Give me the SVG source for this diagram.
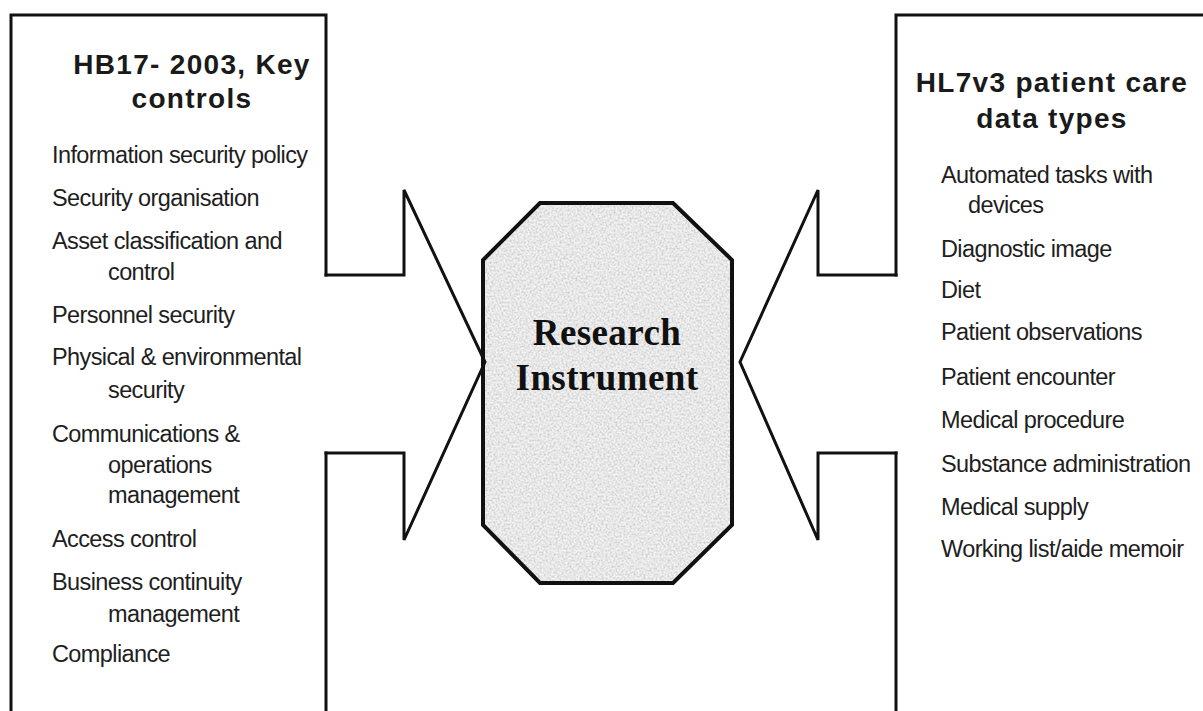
<svg xmlns="http://www.w3.org/2000/svg" width="1203" height="711" viewBox="0 0 1203 711">
  <style>
    .frame { fill: none; stroke: #111; stroke-width: 3; stroke-linecap: square; stroke-linejoin: miter; }
    .title { font-family: "Liberation Sans", Arial, sans-serif; font-weight: bold; font-size: 28px; letter-spacing: 1.3px; fill: #1a1a1a; text-anchor: middle; }
    .item { font-family: "Liberation Sans", Arial, sans-serif; font-size: 23.5px; letter-spacing: -0.6px; fill: #1e1e1e; }
    .core { font-family: "Liberation Serif", "Times New Roman", serif; font-weight: bold; font-size: 37px; letter-spacing: 0.4px; fill: #111; text-anchor: middle; }
  </style>
  <defs>
    <!-- speckled grey texture for the central block -->
    <filter id="grain" x="0" y="0" width="100%" height="100%">
      <feTurbulence type="fractalNoise" baseFrequency="0.5" numOctaves="2" seed="7" result="noise"/>
      <feColorMatrix in="noise" type="matrix" values="0 0 0 0 0.5  0 0 0 0 0.5  0 0 0 0 0.5  1.6 0 0 0 -0.6" result="speck"/>
      <feComposite in="speck" in2="SourceGraphic" operator="in"/>
    </filter>
  </defs>

  <rect width="1203" height="711" fill="#fff"/>

  <!-- left panel -->
  <g id="hb17-panel">
    <path class="frame" d="M11,711 V15 H326 V275 M326,453 V711"/>
    <text class="title" x="192" y="74">HB17- 2003, Key</text>
    <text class="title" x="192" y="108">controls</text>
    <text class="item" x="52" y="163">Information security policy</text>
    <text class="item" x="52" y="206">Security organisation</text>
    <text class="item" x="52" y="249">Asset classification and</text>
    <text class="item" x="108" y="280">control</text>
    <text class="item" x="52" y="323">Personnel security</text>
    <text class="item" x="52" y="365">Physical &amp; environmental</text>
    <text class="item" x="108" y="398">security</text>
    <text class="item" x="52" y="442">Communications &amp;</text>
    <text class="item" x="108" y="473">operations</text>
    <text class="item" x="108" y="503">management</text>
    <text class="item" x="52" y="547">Access control</text>
    <text class="item" x="52" y="590">Business continuity</text>
    <text class="item" x="108" y="622">management</text>
    <text class="item" x="52" y="662">Compliance</text>
  </g>

  <!-- central block -->
  <g id="research-instrument">
    <polygon points="540,203 673,203 732,260 732,525 673,583 540,583 483,525 483,260" fill="#f2f2f2"/>
    <polygon points="540,203 673,203 732,260 732,525 673,583 540,583 483,525 483,260" fill="#000" filter="url(#grain)"/>
    <polygon points="540,203 673,203 732,260 732,525 673,583 540,583 483,525 483,260" fill="none" stroke="#111" stroke-width="4" stroke-linejoin="miter"/>
    <text class="core" x="607" y="345">Research</text>
    <text class="core" x="607" y="390">Instrument</text>
  </g>

  <!-- right panel -->
  <g id="hl7-panel">
    <path class="frame" d="M896,275 V15 H1206 M896,453 V711"/>
    <text class="title" x="1052" y="92">HL7v3 patient care</text>
    <text class="title" x="1052" y="128">data types</text>
    <text class="item" x="941" y="183">Automated tasks with</text>
    <text class="item" x="968" y="213">devices</text>
    <text class="item" x="941" y="257">Diagnostic image</text>
    <text class="item" x="941" y="298">Diet</text>
    <text class="item" x="941" y="340">Patient observations</text>
    <text class="item" x="941" y="385">Patient encounter</text>
    <text class="item" x="941" y="428">Medical procedure</text>
    <text class="item" x="941" y="472">Substance administration</text>
    <text class="item" x="941" y="515">Medical supply</text>
    <text class="item" x="941" y="557">Working list/aide memoir</text>
  </g>

  <!-- pointed links from each panel to the central block -->
  <g id="connectors">
    <path class="frame" d="M326,275 H404 V190 L485,362 L404,540 V453 H326"/>
    <path class="frame" d="M896,275 H818 V190 L740,362 L818,540 V453 H896"/>
  </g>
</svg>
